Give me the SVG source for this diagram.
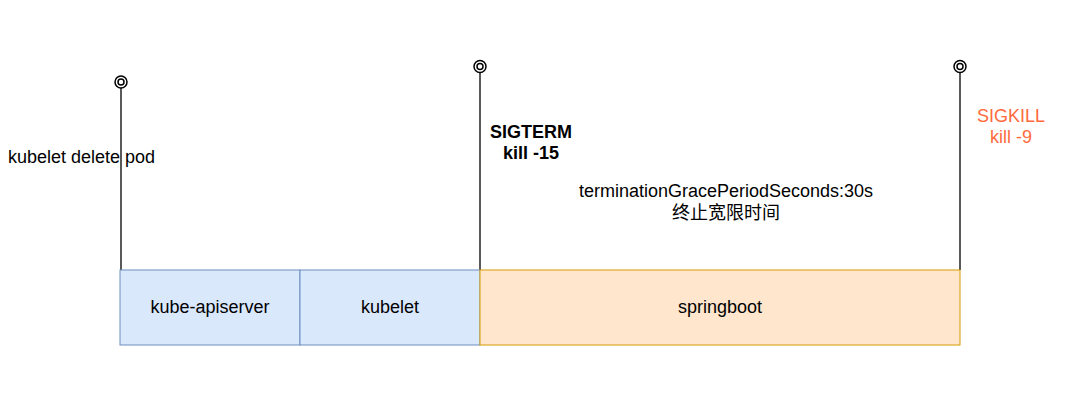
<svg xmlns="http://www.w3.org/2000/svg" width="1081" height="406" viewBox="0 0 1081 406">
<style>
text{font-family:"Liberation Sans",Arial,"Noto Sans CJK SC",sans-serif;font-size:18px;fill:#000}
.c{text-anchor:middle}
.b{font-weight:bold}
.r{fill:#FF6A3D}
.blue{fill:#dae8fc;stroke:#6c8ebf;stroke-width:1}
.orange{fill:#ffe6cc;stroke:#d79b00;stroke-width:1}
.ln{stroke:#000;stroke-width:1.3;fill:none}
.mk{fill:#fff;stroke:#000;stroke-width:1.5}
</style>
<rect width="1081" height="406" fill="#fff"/>
<g id="connectors">
<line class="ln" x1="121" y1="88" x2="121" y2="270"/>
<circle class="mk" cx="121" cy="82" r="6"/><circle class="mk" cx="121" cy="82" r="3"/>
<line class="ln" x1="480" y1="72" x2="480" y2="270"/>
<circle class="mk" cx="480" cy="66.5" r="6"/><circle class="mk" cx="480" cy="66.5" r="3"/>
<line class="ln" x1="960" y1="72" x2="960" y2="270"/>
<circle class="mk" cx="960" cy="66.5" r="6"/><circle class="mk" cx="960" cy="66.5" r="3"/>
</g>
<g id="kube-apiserver"><rect class="blue" x="120" y="270" width="180" height="75"/><text class="c" x="210" y="313">kube-apiserver</text></g>
<g id="kubelet"><rect class="blue" x="300" y="270" width="180" height="75"/><text class="c" x="390" y="313">kubelet</text></g>
<g id="springboot"><rect class="orange" x="480" y="270" width="480" height="75"/><text class="c" x="720" y="313">springboot</text></g>
<g id="label-delete"><text x="8" y="163">kubelet delete pod</text></g>
<g id="label-sigterm"><text class="c b" x="531" y="138">SIGTERM</text><text class="c b" x="531" y="159">kill -15</text></g>
<g id="label-grace"><text class="c" x="726" y="197">terminationGracePeriodSeconds:30s</text><text class="c" x="726" y="219">终止宽限时间</text></g>
<g id="label-sigkill"><text class="c r" x="1011" y="122">SIGKILL</text><text class="c r" x="1011" y="143">kill -9</text></g>
</svg>
